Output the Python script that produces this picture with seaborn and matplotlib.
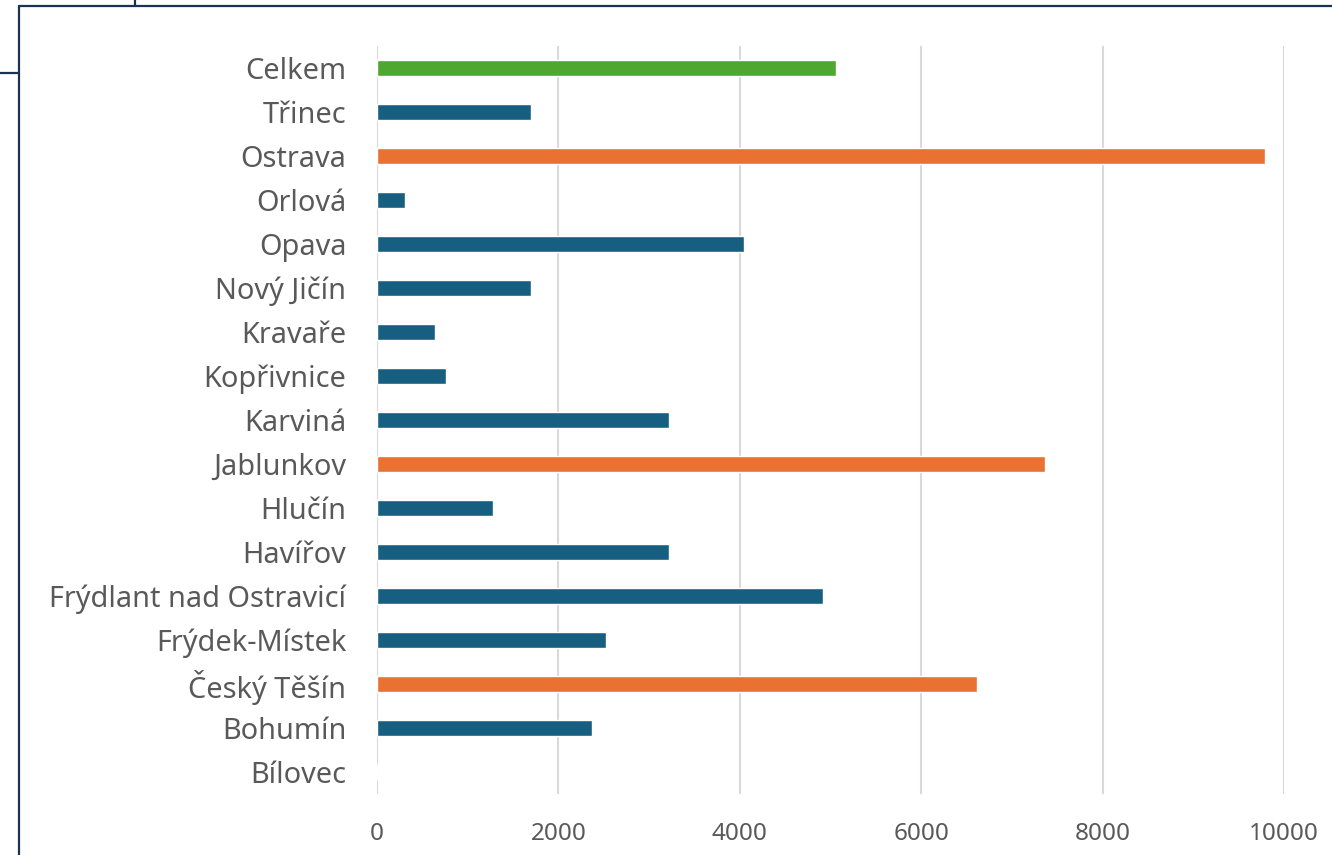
import matplotlib
matplotlib.use("Agg")
import matplotlib.pyplot as plt
from matplotlib.lines import Line2D
import seaborn as sns
import pandas as pd

categories = ["Celkem", "Třinec", "Ostrava", "Orlová", "Opava", "Nový Jičín", "Kravaře",
              "Kopřivnice", "Karviná", "Jablunkov", "Hlučín", "Havířov",
              "Frýdlant nad Ostravicí", "Frýdek-Místek", "Český Těšín", "Bohumín", "Bílovec"]
values = [5066, 1700, 9790, 309, 4051, 1703, 637, 762, 3223, 7362, 1277, 3222,
          4920, 2528, 6618, 2375, 0]
groups = ["total", "normal", "high", "normal", "normal", "normal", "normal",
          "normal", "normal", "high", "normal", "normal", "normal", "normal",
          "high", "normal", "normal"]
group_colors = {"total": "#4EA72E", "normal": "#175F80", "high": "#E97132"}
x_ticks = [0, 2000, 4000, 6000, 8000, 10000]

df = pd.DataFrame({"category": categories, "value": values, "group": groups})

sns.set_theme(style="white")
plt.rcParams["font.family"] = ["Noto Sans", "DejaVu Sans"]

fig = plt.figure(figsize=(13.32, 8.55), dpi=100)
ax = fig.add_axes([377 / 1332, 1 - 794 / 855, 907 / 1332, 748 / 855])

sns.barplot(data=df, y="category", x="value", hue="group", palette=group_colors,
            order=categories, orient="h", width=0.37, legend=False, ax=ax,
            saturation=1, dodge=False)

ax.set_xlim(0, 10000)
ax.set_ylim(len(categories) - 0.5, -0.5)
ax.set_xticks(x_ticks)
ax.set_xticklabels([str(t) for t in x_ticks])
ax.set_xlabel("")
ax.set_ylabel("")
ax.grid(axis="x", color="#D9D9D9", linewidth=1.5)
ax.grid(axis="y", visible=False)
ax.set_axisbelow(True)
for s in ax.spines.values():
    s.set_visible(False)
ax.tick_params(axis="both", length=0, labelcolor="#595959")
ax.tick_params(axis="y", pad=22, labelsize=20.8)
ax.tick_params(axis="x", pad=20, labelsize=17.5)

navy = "#1B3352"
W, H = 1332, 855
def fl(x0, y0, x1, y1):
    fig.add_artist(Line2D([x0 / W, x1 / W], [1 - y0 / H, 1 - y1 / H],
                          color=navy, linewidth=1.6, transform=fig.transFigure))
fl(19, 6.5, 1332, 6.5)
fl(19, 6.5, 19, 855)
fl(135, 0, 135, 6.5)
fl(0, 73.5, 19, 73.5)

fig.savefig("out.png", dpi=100, facecolor="white")
